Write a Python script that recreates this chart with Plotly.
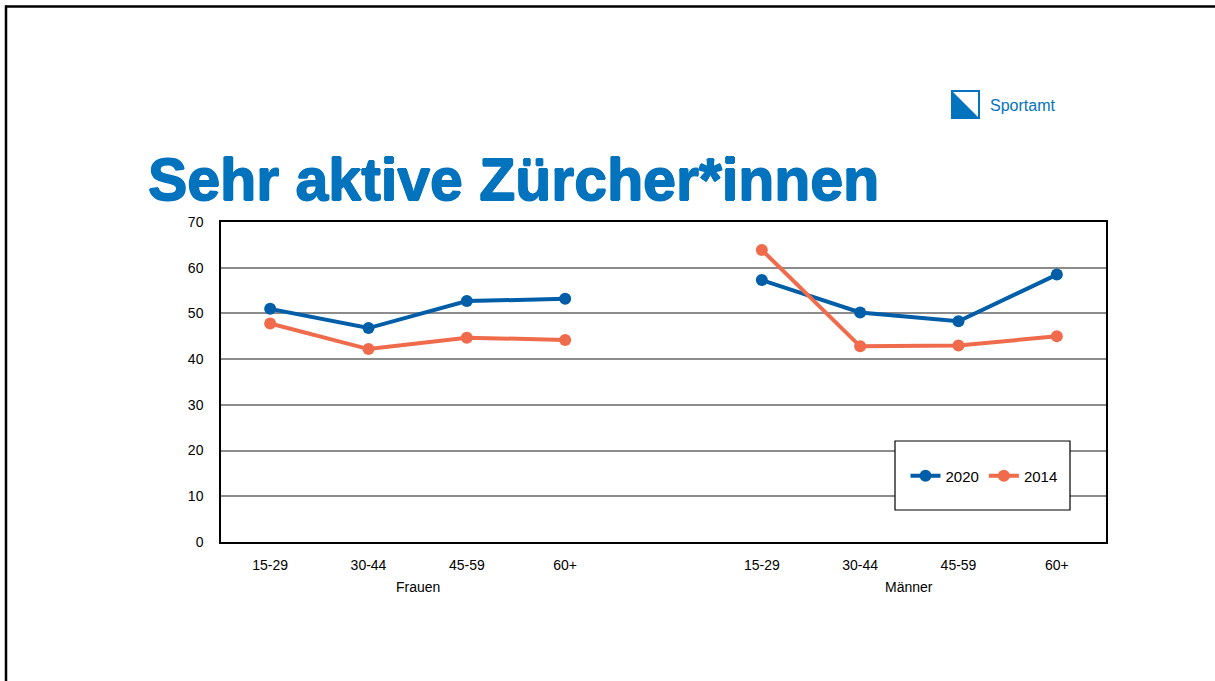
import plotly.graph_objects as go

W, H = 1215, 681

# data
age_groups = ["15-29", "30-44", "45-59", "60+"]
groups = ["Frauen", "Männer"]
frauen_2020 = [51.0, 46.8, 52.7, 53.2]
maenner_2020 = [57.3, 50.2, 48.3, 58.5]
frauen_2014 = [47.8, 42.2, 44.7, 44.2]
maenner_2014 = [63.9, 42.8, 43.0, 45.0]
y_ticks = [0, 10, 20, 30, 40, 50, 60, 70]

BLUE = "#005EA8"
ORANGE = "#EF6B4B"
TITLE_BLUE = "#0473BE"
FONT = "Liberation Sans, Arial, sans-serif"


def px_x(x):
    return x / W


def px_y(y):
    return 1 - y / H


# one slot left empty between the two groups
n = len(age_groups)
x_pos = list(range(n)) + [n] + [n + 1 + i for i in range(n)]
tick_vals = x_pos[:n] + x_pos[n + 1:]
tick_text = age_groups + age_groups

series = [
    ("2020", frauen_2020, maenner_2020, BLUE),
    ("2014", frauen_2014, maenner_2014, ORANGE),
]

fig = go.Figure()
for name, f_vals, m_vals, color in series:
    fig.add_trace(go.Scatter(
        x=x_pos,
        y=f_vals + [None] + m_vals,
        mode="lines+markers",
        name=name,
        connectgaps=False,
        line=dict(color=color, width=4),
        marker=dict(color=color, size=12),
    ))

fig.update_layout(
    width=W, height=H,
    margin=dict(l=0, r=0, t=0, b=0),
    paper_bgcolor="white",
    plot_bgcolor="white",
    font=dict(family=FONT, color="black", size=14),
    showlegend=True,
    legend=dict(
        orientation="h",
        x=px_x(984), y=px_y(476),
        xanchor="center", yanchor="middle",
        bgcolor="rgba(0,0,0,0)",
        font=dict(size=15, color="black"),
        itemwidth=30,
    ),
)

fig.update_xaxes(
    domain=[px_x(221), px_x(1106)],
    range=[-0.5, len(x_pos) - 0.5],
    tickmode="array", tickvals=tick_vals, ticktext=tick_text,
    showgrid=False, zeroline=False,
    showline=True, linecolor="black", linewidth=1.5, mirror=True,
    ticks="", ticklabelstandoff=9,
    tickfont=dict(size=14),
    automargin=False,
)
fig.update_yaxes(
    domain=[px_y(542), px_y(222)],
    range=[0, 70],
    tickmode="array", tickvals=y_ticks,
    showgrid=True, gridcolor="#8c8c8c", gridwidth=1.5,
    zeroline=False,
    showline=True, linecolor="black", linewidth=1.5, mirror=True,
    ticks="", ticklabelstandoff=13,
    tickfont=dict(size=14),
    automargin=False,
)

# group labels under the age categories
for i, g in enumerate(groups):
    centre = sum(tick_vals[i * n:(i + 1) * n]) / n
    fig.add_annotation(x=centre, xref="x", y=px_y(587), yref="paper",
                       text=g, showarrow=False, font=dict(size=14),
                       xanchor="center", yanchor="middle")

# legend box (white fill hides the gridlines)
fig.add_shape(type="rect", xref="paper", yref="paper",
              x0=px_x(895), x1=px_x(1070), y0=px_y(510), y1=px_y(441),
              line=dict(color="black", width=1.2), fillcolor="white",
              layer="above")

# slide frame (top and left edges)
fig.add_shape(type="line", xref="paper", yref="paper",
              x0=px_x(5), x1=1, y0=px_y(6.5), y1=px_y(6.5),
              line=dict(color="black", width=2.5))
fig.add_shape(type="line", xref="paper", yref="paper",
              x0=px_x(6), x1=px_x(6), y0=px_y(5.5), y1=0,
              line=dict(color="black", width=2.5))

# title, thickened a little to get closer to the heavy original face
thick = ", ".join("{}px {}px 0 {}".format(dx, dy, TITLE_BLUE)
                  for dx, dy in [(0.8, 0), (-0.8, 0), (0, 0.8), (0, -0.8)])
fig.add_annotation(x=px_x(146), y=px_y(180), xref="paper", yref="paper",
                   text="<b>Sehr aktive Zürcher*innen</b>", showarrow=False,
                   xanchor="left", yanchor="middle",
                   font=dict(size=59, color=TITLE_BLUE, family=FONT,
                             weight="bold", shadow=thick))

# Sportamt logo
fig.add_shape(type="rect", xref="paper", yref="paper",
              x0=px_x(952), x1=px_x(979), y0=px_y(118), y1=px_y(91),
              line=dict(color=TITLE_BLUE, width=2), fillcolor="white")
fig.add_shape(type="path", xref="paper", yref="paper",
              path="M {} {} L {} {} L {} {} Z".format(
                  px_x(952), px_y(91), px_x(979), px_y(118), px_x(952), px_y(118)),
              line=dict(color=TITLE_BLUE, width=0), fillcolor=TITLE_BLUE)
fig.add_annotation(x=px_x(988), y=px_y(106), xref="paper", yref="paper",
                   text="Sportamt", showarrow=False,
                   xanchor="left", yanchor="middle",
                   font=dict(size=16, color=TITLE_BLUE, family=FONT))

fig.write_html("out.html",
               config={"displayModeBar": False},
               post_script="document.body.style.margin='0';"
                           "document.body.style.overflow='hidden';")
